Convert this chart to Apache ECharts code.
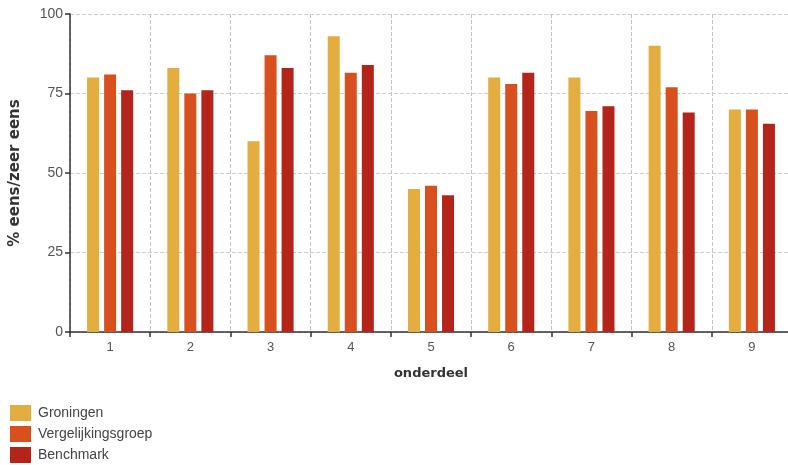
<!DOCTYPE html>
<html>
<head>
<meta charset="utf-8">
<script src="https://cdn.jsdelivr.net/npm/echarts@6/dist/echarts.min.js"></script>
<style>html,body{margin:0;padding:0;background:#fff;}#c{width:788px;height:465px;}</style>
</head>
<body>
<div id="c"></div>
<script>
const categories = ['1','2','3','4','5','6','7','8','9'];
const groningen = [80, 83, 60, 93, 45, 80, 80, 90, 70];
const vergelijkingsgroep = [81, 75, 87, 81.5, 46, 78, 69.5, 77, 70];
const benchmark = [76, 76, 83, 84, 43, 81.5, 71, 69, 65.5];
const seriesNames = ['Groningen', 'Vergelijkingsgroep', 'Benchmark'];
const colors = ['#e4ad40', '#d8501d', '#b5241a'];

const chart = echarts.init(document.getElementById('c'), null, {renderer: 'canvas'});
const font = 'Liberation Sans, Arial, sans-serif';
const boldFont = 'DejaVu Sans, sans-serif';
const mk = (name, data, i) => ({
  name: name, type: 'bar', data: data, barWidth: 12, barGap: '42%',
  itemStyle: {color: colors[i]}
});
chart.setOption({
  animation: false,
  textStyle: {fontFamily: font},
  grid: {left: 70, width: 722, top: 14, height: 318, containLabel: false, outerBoundsMode: 'none'},
  legend: {
    orient: 'vertical', left: 10, top: 405, itemWidth: 21, itemHeight: 16, itemGap: 5,
    padding: 0, icon: 'rect',
    textStyle: {fontSize: 14, color: '#444', fontFamily: font, padding: [0, 0, 0, 2]},
    data: seriesNames
  },
  xAxis: {
    type: 'category', data: categories,
    name: 'onderdeel', nameLocation: 'middle', nameGap: 35,
    nameTextStyle: {fontSize: 13, fontWeight: 'bold', color: '#333', fontFamily: boldFont},
    axisLine: {lineStyle: {color: '#333', width: 1.5}},
    axisTick: {show: true, inside: false, length: 5, lineStyle: {color: '#333', width: 1.5}},
    axisLabel: {fontSize: 13, color: '#555', margin: 9},
    splitLine: {show: true, lineStyle: {color: '#c4c4c4', type: 'dashed', width: 1}}
  },
  yAxis: {
    type: 'value', min: 0, max: 100, interval: 25,
    name: '% eens/zeer eens', nameLocation: 'middle', nameGap: 47, nameRotate: 90,
    nameTextStyle: {fontSize: 15, fontWeight: 'bold', color: '#333', fontFamily: boldFont},
    axisLine: {show: true, lineStyle: {color: '#333', width: 1.5}},
    axisTick: {show: true, length: 5, lineStyle: {color: '#333', width: 1.5}},
    axisLabel: {fontSize: 14, color: '#555', margin: 7},
    splitLine: {show: true, lineStyle: {color: '#cfcfcf', type: 'dashed', width: 1}}
  },
  series: [
    mk(seriesNames[0], groningen, 0),
    mk(seriesNames[1], vergelijkingsgroep, 1),
    mk(seriesNames[2], benchmark, 2)
  ]
});
</script>
</body>
</html>
